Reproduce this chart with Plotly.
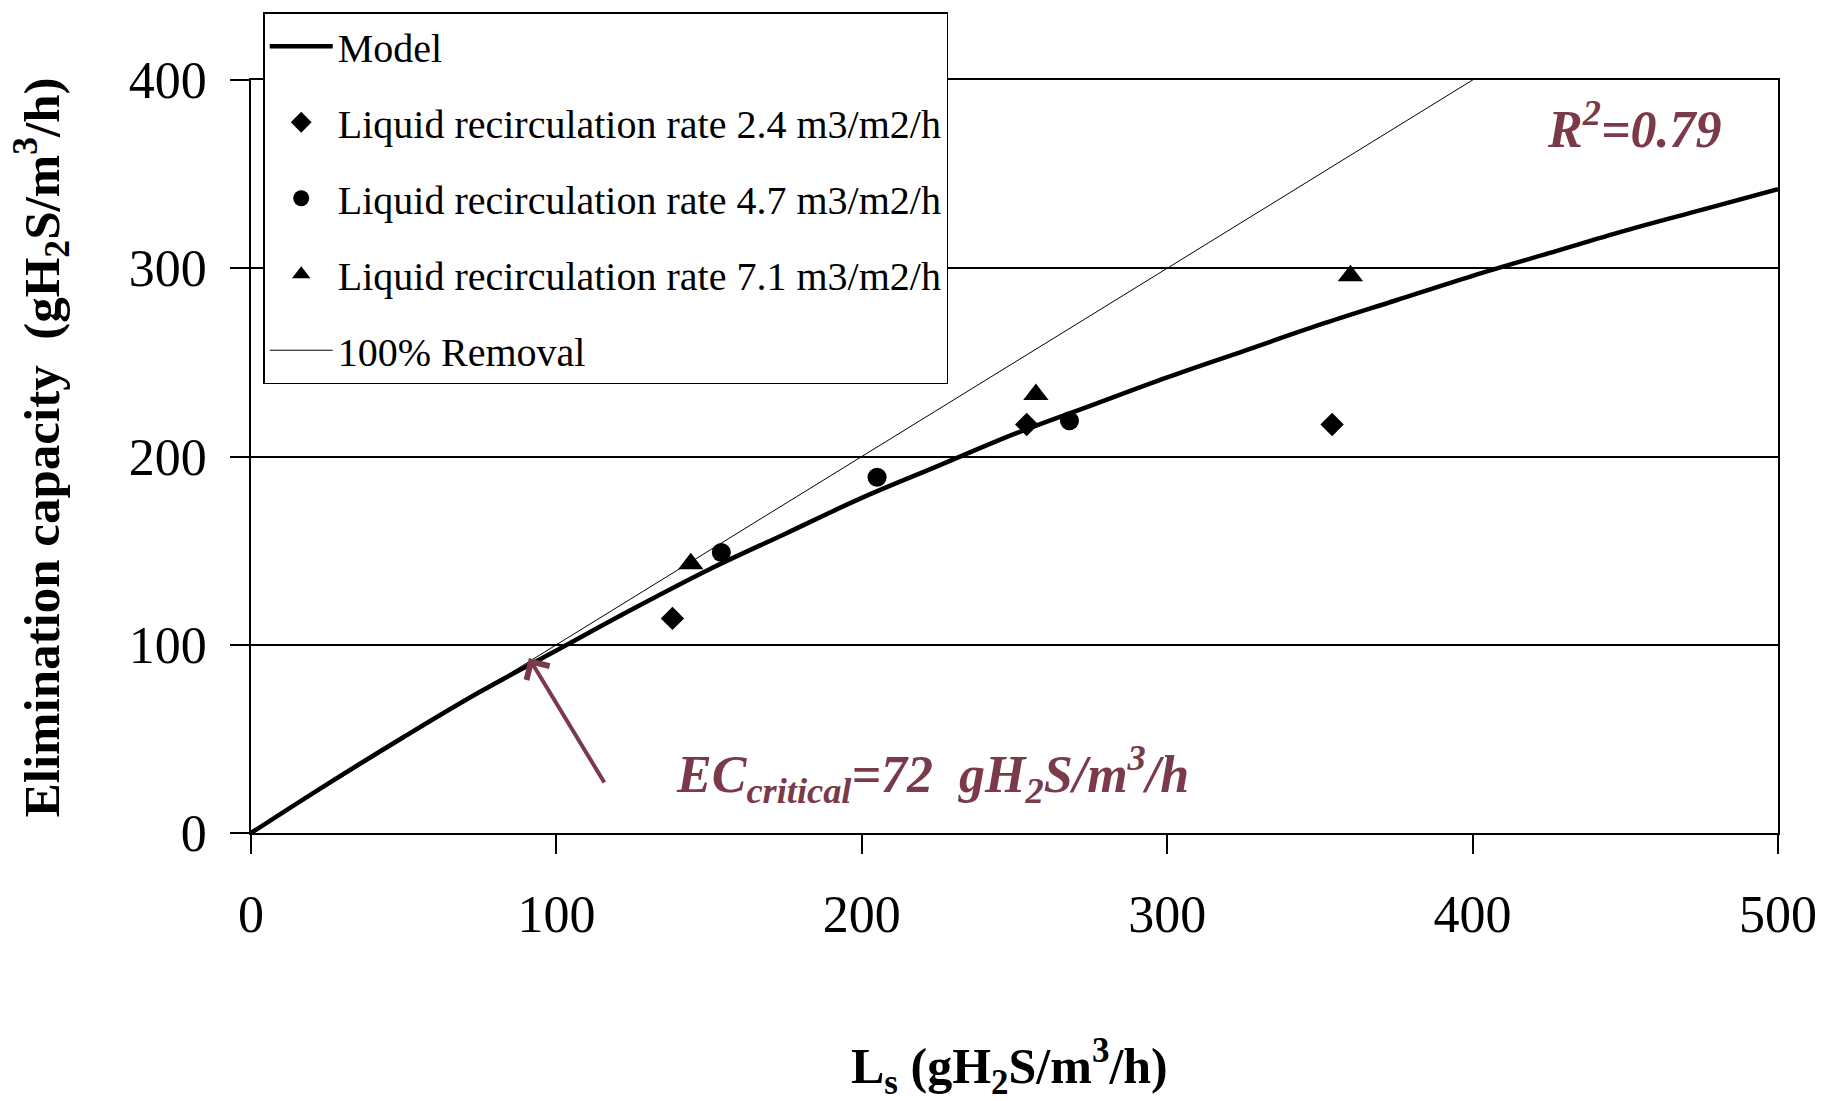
import plotly.graph_objects as go

# ---- data ----
model_x = [0, 25, 50, 75, 100, 125, 150, 175, 200, 225, 250, 275, 300, 325, 350, 375, 400, 425, 450, 475, 500]
model_y = [0, 26, 51, 75, 97, 119, 140, 159, 178, 195, 212, 227, 242, 256, 270, 283, 296, 308, 320, 331, 342]

removal_x = [0, 500]
removal_y = [0, 500]

rate24_x = [138, 254, 354]
rate24_y = [114, 217, 217]

rate47_x = [154, 205, 268]
rate47_y = [149, 189, 219]

rate71_x = [144, 257, 360]
rate71_y = [143, 233, 296]

x_ticks = [0, 100, 200, 300, 400, 500]
y_ticks = [0, 100, 200, 300, 400]

MAROON = "#7A3A4A"
FONT = "Liberation Serif"

fig = go.Figure()

fig.add_trace(go.Scatter(x=model_x, y=model_y, mode="lines", name="Model",
                         line=dict(color="black", width=4.5, shape="spline"), legendgroup="a"))
fig.add_trace(go.Scatter(x=rate24_x, y=rate24_y, mode="markers",
                         name="Liquid recirculation rate 2.4 m3/m2/h",
                         marker=dict(symbol="diamond", size=18, color="black"), legendgroup="b"))
fig.add_trace(go.Scatter(x=rate47_x, y=rate47_y, mode="markers",
                         name="Liquid recirculation rate 4.7 m3/m2/h",
                         marker=dict(symbol="circle", size=19, color="black"), legendgroup="c"))
fig.add_trace(go.Scatter(x=rate71_x, y=rate71_y, mode="markers",
                         name="Liquid recirculation rate 7.1 m3/m2/h",
                         marker=dict(symbol="triangle-up", size=22, color="black"), legendgroup="d"))
fig.add_trace(go.Scatter(x=removal_x, y=removal_y, mode="lines", name="100% Removal",
                         line=dict(color="black", width=1), legendgroup="e"))

fig.update_layout(
    width=1834, height=1101,
    margin=dict(l=251, r=56, t=76, b=268),
    paper_bgcolor="white", plot_bgcolor="white",
    font=dict(family=FONT, color="black"),
    showlegend=True,
    legend=dict(
        x=0.008, y=1.09, xanchor="left", yanchor="top",
        bgcolor="white", bordercolor="black", borderwidth=1.5,
        font=dict(family=FONT, size=40, color="black"),
        traceorder="grouped", tracegroupgap=21, itemwidth=63,
    ),
    xaxis=dict(
        range=[0, 500], tickvals=x_ticks, ticks="outside", ticklen=19, tickwidth=1.5,
        tickcolor="black", showline=True, linecolor="black", linewidth=2, mirror=True,
        showgrid=False, zeroline=False, ticklabelstandoff=16,
        tickfont=dict(family=FONT, size=52, color="black"),
    ),
    yaxis=dict(
        range=[0, 400], tickvals=y_ticks, ticks="outside", ticklen=19, tickwidth=1.5,
        tickcolor="black", showline=True, linecolor="black", linewidth=1.5, mirror=True,
        showgrid=True, gridcolor="black", gridwidth=1.5, zeroline=False,
        ticklabelstandoff=13,
        tickfont=dict(family=FONT, size=52, color="black"),
    ),
)

# axis titles
fig.add_annotation(xref="paper", yref="paper", x=-0.137, y=0.512,
                   xanchor="center", yanchor="middle", textangle=-90, showarrow=False,
                   text="<b>Elimination capacity&nbsp; (gH<sub>2</sub>S/m<sup>3</sup>/h)</b>",
                   font=dict(family=FONT, size=51, color="black"))
fig.add_annotation(xref="paper", yref="paper", x=0.497, y=-0.31,
                   xanchor="center", yanchor="middle", showarrow=False,
                   text="<b>L<sub>s</sub> (gH<sub>2</sub>S/m<sup>3</sup>/h)</b>",
                   font=dict(family=FONT, size=50, color="black"))

# R² and EC annotations
fig.add_annotation(x=453, y=376, xref="x", yref="y", showarrow=False,
                   text="<b><i>R<sup>2</sup>=0.79</i></b>",
                   font=dict(family=FONT, size=52, color=MAROON))
fig.add_annotation(x=223, y=31, xref="x", yref="y", showarrow=False,
                   text="<b><i>EC<sub>critical</sub>=72&nbsp; gH<sub>2</sub>S/m<sup>3</sup>/h</i></b>",
                   font=dict(family=FONT, size=52, color=MAROON))
# arrow
fig.add_annotation(x=91, y=93, xref="x", yref="y", ax=116, ay=26, axref="x", ayref="y",
                   showarrow=True, arrowhead=4, arrowsize=1.3, arrowwidth=4,
                   arrowcolor=MAROON, text="")

fig.write_html("out.html")
